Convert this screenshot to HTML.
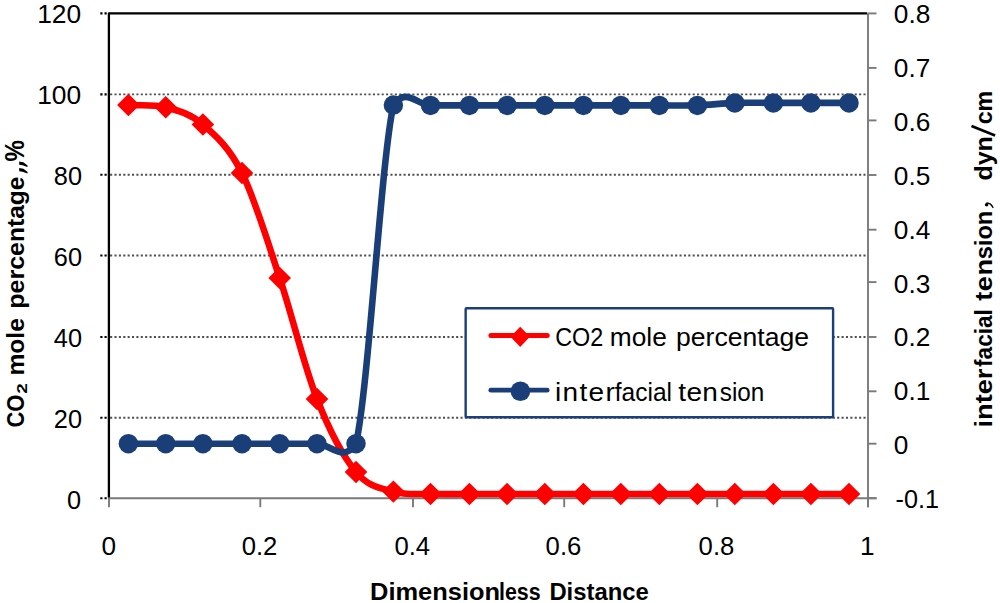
<!DOCTYPE html>
<html lang="en"><head><meta charset="utf-8"><title>CO2 mole percentage and interfacial tension</title>
<style>html,body{margin:0;padding:0;background:#fff;}body{width:1000px;height:603px;overflow:hidden;}svg{display:block;}text{font-family:"Liberation Sans", sans-serif;fill:#000;}</style></head><body>
<svg width="1000" height="603" viewBox="0 0 1000 603">
<rect x="0" y="0" width="1000" height="603" fill="#ffffff"/>
<g stroke="#505050" stroke-width="1.9" stroke-dasharray="2.1 2.28" fill="none">
<line x1="110.10" y1="417.70" x2="867.00" y2="417.70"/>
<line x1="110.10" y1="337.00" x2="867.00" y2="337.00"/>
<line x1="110.10" y1="255.50" x2="867.00" y2="255.50"/>
<line x1="110.10" y1="174.70" x2="867.00" y2="174.70"/>
<line x1="110.10" y1="94.40" x2="867.00" y2="94.40"/>
</g>
<g stroke="#000" stroke-width="2.1" stroke-dasharray="2.2 2.0" fill="none">
<line x1="100.30" y1="498.20" x2="107.90" y2="498.20"/>
<line x1="100.30" y1="417.70" x2="107.90" y2="417.70"/>
<line x1="100.30" y1="337.00" x2="107.90" y2="337.00"/>
<line x1="100.30" y1="255.50" x2="107.90" y2="255.50"/>
<line x1="100.30" y1="174.70" x2="107.90" y2="174.70"/>
<line x1="100.30" y1="94.40" x2="107.90" y2="94.40"/>
<line x1="100.30" y1="13.40" x2="107.90" y2="13.40"/>
</g>
<g stroke="#7A7A7A" stroke-width="1.9" fill="none">
<line x1="107.90" y1="498.20" x2="876.50" y2="498.20"/>
<line x1="109.00" y1="498.20" x2="109.00" y2="507.20"/>
<line x1="260.30" y1="498.20" x2="260.30" y2="507.20"/>
<line x1="413.00" y1="498.20" x2="413.00" y2="507.20"/>
<line x1="564.20" y1="498.20" x2="564.20" y2="507.20"/>
<line x1="717.20" y1="498.20" x2="717.20" y2="507.20"/>
<line x1="868.00" y1="498.20" x2="868.00" y2="507.20"/>
<line x1="868.00" y1="13.40" x2="868.00" y2="507.20"/>
<line x1="868.00" y1="498.20" x2="876.50" y2="498.20"/>
<line x1="868.00" y1="443.70" x2="876.50" y2="443.70"/>
<line x1="868.00" y1="391.30" x2="876.50" y2="391.30"/>
<line x1="868.00" y1="337.00" x2="876.50" y2="337.00"/>
<line x1="868.00" y1="282.10" x2="876.50" y2="282.10"/>
<line x1="868.00" y1="229.70" x2="876.50" y2="229.70"/>
<line x1="868.00" y1="175.00" x2="876.50" y2="175.00"/>
<line x1="868.00" y1="120.40" x2="876.50" y2="120.40"/>
<line x1="868.00" y1="67.90" x2="876.50" y2="67.90"/>
<line x1="868.00" y1="13.40" x2="876.50" y2="13.40"/>
</g>
<path d="M108.90 497.40 L108.90 13.40 L867.20 13.40" stroke="#000" stroke-width="2.3" fill="none" stroke-linejoin="round"/>
<path d="M128.40 105.00 C140.83 105.77 153.28 104.05 165.70 107.30 C178.12 110.55 190.18 113.55 202.90 124.50 C215.62 135.45 229.20 147.42 242.00 173.00 C254.80 198.58 267.20 240.33 279.70 278.00 C292.20 315.67 304.28 366.67 317.00 399.00 C329.72 431.33 343.27 456.57 356.00 472.00 C368.73 487.43 380.98 487.93 393.40 491.60 C405.82 495.27 417.83 493.60 430.50 494.00 C443.17 494.40 456.63 494.00 469.40 494.00 C482.17 494.00 494.53 494.00 507.10 494.00 C519.67 494.00 532.08 494.00 544.80 494.00 C557.52 494.00 570.73 494.00 583.40 494.00 C596.07 494.00 608.15 494.00 620.80 494.00 C633.45 494.00 646.53 494.00 659.30 494.00 C672.07 494.00 684.82 494.00 697.40 494.00 C709.98 494.00 722.13 494.00 734.80 494.00 C747.47 494.00 760.72 494.00 773.40 494.00 C786.08 494.00 798.30 494.00 810.90 494.00 C823.50 494.00 836.30 494.00 849.00 494.00" stroke="#FE0000" stroke-width="6.6" fill="none" stroke-linecap="round" stroke-linejoin="round"/>
<path d="M128.40 93.80 L139.70 105.00 L128.40 116.20 L117.10 105.00 Z" fill="#FE0000"/>
<path d="M165.70 96.10 L177.00 107.30 L165.70 118.50 L154.40 107.30 Z" fill="#FE0000"/>
<path d="M202.90 113.30 L214.20 124.50 L202.90 135.70 L191.60 124.50 Z" fill="#FE0000"/>
<path d="M242.00 161.80 L253.30 173.00 L242.00 184.20 L230.70 173.00 Z" fill="#FE0000"/>
<path d="M279.70 266.80 L291.00 278.00 L279.70 289.20 L268.40 278.00 Z" fill="#FE0000"/>
<path d="M317.00 387.80 L328.30 399.00 L317.00 410.20 L305.70 399.00 Z" fill="#FE0000"/>
<path d="M356.00 460.80 L367.30 472.00 L356.00 483.20 L344.70 472.00 Z" fill="#FE0000"/>
<path d="M393.40 480.40 L404.70 491.60 L393.40 502.80 L382.10 491.60 Z" fill="#FE0000"/>
<path d="M430.50 482.80 L441.80 494.00 L430.50 505.20 L419.20 494.00 Z" fill="#FE0000"/>
<path d="M469.40 482.80 L480.70 494.00 L469.40 505.20 L458.10 494.00 Z" fill="#FE0000"/>
<path d="M507.10 482.80 L518.40 494.00 L507.10 505.20 L495.80 494.00 Z" fill="#FE0000"/>
<path d="M544.80 482.80 L556.10 494.00 L544.80 505.20 L533.50 494.00 Z" fill="#FE0000"/>
<path d="M583.40 482.80 L594.70 494.00 L583.40 505.20 L572.10 494.00 Z" fill="#FE0000"/>
<path d="M620.80 482.80 L632.10 494.00 L620.80 505.20 L609.50 494.00 Z" fill="#FE0000"/>
<path d="M659.30 482.80 L670.60 494.00 L659.30 505.20 L648.00 494.00 Z" fill="#FE0000"/>
<path d="M697.40 482.80 L708.70 494.00 L697.40 505.20 L686.10 494.00 Z" fill="#FE0000"/>
<path d="M734.80 482.80 L746.10 494.00 L734.80 505.20 L723.50 494.00 Z" fill="#FE0000"/>
<path d="M773.40 482.80 L784.70 494.00 L773.40 505.20 L762.10 494.00 Z" fill="#FE0000"/>
<path d="M810.90 482.80 L822.20 494.00 L810.90 505.20 L799.60 494.00 Z" fill="#FE0000"/>
<path d="M849.00 482.80 L860.30 494.00 L849.00 505.20 L837.70 494.00 Z" fill="#FE0000"/>
<path d="M128.40 443.70 C140.83 443.70 153.28 443.70 165.70 443.70 C178.12 443.70 190.18 443.70 202.90 443.70 C215.62 443.70 229.20 443.70 242.00 443.70 C254.80 443.70 267.20 443.70 279.70 443.70 C292.20 443.70 304.28 443.70 317.00 443.70 C329.72 443.70 343.27 463.20 356.00 443.70 C368.73 387.27 380.98 161.48 393.40 105.10 C405.82 86.55 417.83 105.35 430.50 105.40 C443.17 105.45 456.63 105.40 469.40 105.40 C482.17 105.40 494.53 105.40 507.10 105.40 C519.67 105.40 532.08 105.40 544.80 105.40 C557.52 105.40 570.73 105.40 583.40 105.40 C596.07 105.40 608.15 105.40 620.80 105.40 C633.45 105.40 646.53 105.40 659.30 105.40 C672.07 105.40 684.82 105.82 697.40 105.40 C709.98 104.98 722.13 103.32 734.80 102.90 C747.47 102.48 760.72 102.90 773.40 102.90 C786.08 102.90 798.30 102.90 810.90 102.90 C823.50 102.90 836.30 102.90 849.00 102.90" stroke="#1A3F78" stroke-width="6.6" fill="none" stroke-linecap="round" stroke-linejoin="round"/>
<circle cx="128.40" cy="443.70" r="9.75" fill="#1A3F78"/>
<circle cx="165.70" cy="443.70" r="9.75" fill="#1A3F78"/>
<circle cx="202.90" cy="443.70" r="9.75" fill="#1A3F78"/>
<circle cx="242.00" cy="443.70" r="9.75" fill="#1A3F78"/>
<circle cx="279.70" cy="443.70" r="9.75" fill="#1A3F78"/>
<circle cx="317.00" cy="443.70" r="9.75" fill="#1A3F78"/>
<circle cx="356.00" cy="443.70" r="9.75" fill="#1A3F78"/>
<circle cx="393.40" cy="105.10" r="9.75" fill="#1A3F78"/>
<circle cx="430.50" cy="105.40" r="9.75" fill="#1A3F78"/>
<circle cx="469.40" cy="105.40" r="9.75" fill="#1A3F78"/>
<circle cx="507.10" cy="105.40" r="9.75" fill="#1A3F78"/>
<circle cx="544.80" cy="105.40" r="9.75" fill="#1A3F78"/>
<circle cx="583.40" cy="105.40" r="9.75" fill="#1A3F78"/>
<circle cx="620.80" cy="105.40" r="9.75" fill="#1A3F78"/>
<circle cx="659.30" cy="105.40" r="9.75" fill="#1A3F78"/>
<circle cx="697.40" cy="105.40" r="9.75" fill="#1A3F78"/>
<circle cx="734.80" cy="102.90" r="9.75" fill="#1A3F78"/>
<circle cx="773.40" cy="102.90" r="9.75" fill="#1A3F78"/>
<circle cx="810.90" cy="102.90" r="9.75" fill="#1A3F78"/>
<circle cx="849.00" cy="102.90" r="9.75" fill="#1A3F78"/>
<rect x="465.65" y="308.2" width="367.45" height="109.1" rx="0.8" fill="#fff" stroke="#1B3F79" stroke-width="2.4" stroke-linejoin="round"/>
<line x1="490.9" y1="335.5" x2="547.2" y2="335.5" stroke="#FE0000" stroke-width="5.0" stroke-linecap="round"/>
<path d="M520.20 326.70 L529.90 336.80 L520.20 346.90 L510.50 336.80 Z" fill="#FE0000"/>
<line x1="490.8" y1="390.2" x2="547.2" y2="390.2" stroke="#1A3F78" stroke-width="4.7" stroke-linecap="round"/>
<circle cx="520.40" cy="391.30" r="9.80" fill="#1A3F78"/>
<text x="555.20" y="346.40" font-size="25.50" font-weight="normal" text-anchor="start" textLength="48.00" lengthAdjust="spacingAndGlyphs">CO2</text>
<text x="609.80" y="346.40" font-size="25.50" font-weight="normal" text-anchor="start" textLength="57.00" lengthAdjust="spacingAndGlyphs">mole</text>
<text x="676.00" y="346.40" font-size="25.50" font-weight="normal" text-anchor="start" textLength="133.00" lengthAdjust="spacingAndGlyphs">percentage</text>
<text transform="translate(556.90 400.70) scale(1.1000 1)" x="-1.71 5.16 20.54 28.82 44.20" y="0" font-size="25.50" font-weight="normal" style="font-kerning:none">inter</text>
<text x="614.75" y="400.70" font-size="25.50" font-weight="normal" text-anchor="start" textLength="57.29" lengthAdjust="spacingAndGlyphs" style="font-kerning:none">facial</text>
<text transform="translate(678.80 400.70) scale(1.1000 1)" x="-0.39 6.90 21.29" y="0" font-size="25.50" font-weight="normal" style="font-kerning:none">ten</text>
<text x="719.82" y="400.70" font-size="25.50" font-weight="normal" text-anchor="start" textLength="44.55" lengthAdjust="spacingAndGlyphs" style="font-kerning:none">sion</text>
<text x="67.10" y="508.70" font-size="25.40" font-weight="normal" text-anchor="start" textLength="14.10" lengthAdjust="spacingAndGlyphs">0</text>
<text x="53.80" y="427.70" font-size="25.40" font-weight="normal" text-anchor="start" textLength="28.20" lengthAdjust="spacingAndGlyphs">20</text>
<text x="53.80" y="346.70" font-size="25.40" font-weight="normal" text-anchor="start" textLength="28.20" lengthAdjust="spacingAndGlyphs">40</text>
<text x="53.80" y="265.70" font-size="25.40" font-weight="normal" text-anchor="start" textLength="28.20" lengthAdjust="spacingAndGlyphs">60</text>
<text x="53.80" y="184.70" font-size="25.40" font-weight="normal" text-anchor="start" textLength="28.20" lengthAdjust="spacingAndGlyphs">80</text>
<text x="37.20" y="103.70" font-size="25.40" font-weight="normal" text-anchor="start" textLength="44.00" lengthAdjust="spacingAndGlyphs">100</text>
<text x="37.20" y="22.70" font-size="25.40" font-weight="normal" text-anchor="start" textLength="44.00" lengthAdjust="spacingAndGlyphs">120</text>
<text x="895.50" y="508.16" font-size="25.40" font-weight="normal" text-anchor="start" textLength="43.50" lengthAdjust="spacingAndGlyphs">-0.1</text>
<text x="893.80" y="454.27" font-size="25.40" font-weight="normal" text-anchor="start" textLength="14.60" lengthAdjust="spacingAndGlyphs">0</text>
<text x="893.80" y="400.38" font-size="25.40" font-weight="normal" text-anchor="start" textLength="36.50" lengthAdjust="spacingAndGlyphs">0.1</text>
<text x="893.80" y="346.49" font-size="25.40" font-weight="normal" text-anchor="start" textLength="36.50" lengthAdjust="spacingAndGlyphs">0.2</text>
<text x="893.80" y="292.60" font-size="25.40" font-weight="normal" text-anchor="start" textLength="36.50" lengthAdjust="spacingAndGlyphs">0.3</text>
<text x="893.80" y="238.71" font-size="25.40" font-weight="normal" text-anchor="start" textLength="36.50" lengthAdjust="spacingAndGlyphs">0.4</text>
<text x="893.80" y="184.82" font-size="25.40" font-weight="normal" text-anchor="start" textLength="36.50" lengthAdjust="spacingAndGlyphs">0.5</text>
<text x="893.80" y="130.93" font-size="25.40" font-weight="normal" text-anchor="start" textLength="36.50" lengthAdjust="spacingAndGlyphs">0.6</text>
<text x="893.80" y="77.04" font-size="25.40" font-weight="normal" text-anchor="start" textLength="36.50" lengthAdjust="spacingAndGlyphs">0.7</text>
<text x="893.80" y="23.15" font-size="25.40" font-weight="normal" text-anchor="start" textLength="36.50" lengthAdjust="spacingAndGlyphs">0.8</text>
<text x="101.60" y="554.90" font-size="25.40" font-weight="normal" text-anchor="start" textLength="14.60" lengthAdjust="spacingAndGlyphs">0</text>
<text x="241.70" y="554.90" font-size="25.40" font-weight="normal" text-anchor="start" textLength="35.70" lengthAdjust="spacingAndGlyphs">0.2</text>
<text x="394.40" y="554.90" font-size="25.40" font-weight="normal" text-anchor="start" textLength="35.70" lengthAdjust="spacingAndGlyphs">0.4</text>
<text x="545.60" y="554.90" font-size="25.40" font-weight="normal" text-anchor="start" textLength="35.70" lengthAdjust="spacingAndGlyphs">0.6</text>
<text x="698.60" y="554.90" font-size="25.40" font-weight="normal" text-anchor="start" textLength="35.70" lengthAdjust="spacingAndGlyphs">0.8</text>
<text x="860.00" y="554.90" font-size="25.40" font-weight="normal" text-anchor="start" textLength="14.60" lengthAdjust="spacingAndGlyphs">1</text>
<text x="370.00" y="600.10" font-size="24.70" font-weight="bold" text-anchor="start" textLength="130.08" lengthAdjust="spacingAndGlyphs" style="font-kerning:none">Dimension</text>
<text x="499.01" y="600.10" font-size="24.70" font-weight="bold" text-anchor="start" textLength="41.57" lengthAdjust="spacingAndGlyphs" style="font-kerning:none">less</text>
<text x="549.40" y="600.10" font-size="24.70" font-weight="bold" text-anchor="start" textLength="99.41" lengthAdjust="spacingAndGlyphs" style="font-kerning:none">Distance</text>
<g transform="translate(23.6 0) rotate(-90)">
<text x="-427.60" y="0.00" font-size="24.70" font-weight="bold" text-anchor="start" textLength="33.00" lengthAdjust="spacingAndGlyphs">CO</text>
<text x="-393.80" y="3.60" font-size="15.50" font-weight="bold" text-anchor="start" textLength="10.60" lengthAdjust="spacingAndGlyphs">2</text>
<text x="-375.60" y="0.00" font-size="24.70" font-weight="bold" text-anchor="start" textLength="57.50" lengthAdjust="spacingAndGlyphs">mole</text>
<text x="-308.85" y="0.00" font-size="24.70" font-weight="bold" text-anchor="start" textLength="66.91" lengthAdjust="spacingAndGlyphs" style="font-kerning:none">perce</text>
<text x="-242.02" y="0.00" font-size="24.70" font-weight="bold" text-anchor="start" textLength="65.46" lengthAdjust="spacingAndGlyphs" style="font-kerning:none">ntage</text>
<text x="-161.40" y="0.00" font-size="24.70" font-weight="bold" text-anchor="start" textLength="21.40" lengthAdjust="spacingAndGlyphs" transform="scale(1 1.12)">%</text>
</g>
<path d="M19.2 161.60 L19.2 164.70 L22.5 165.20 L27.4 167.00 L27.6 165.60 L23.4 162.20 Z" fill="#000"/>
<path d="M19.2 168.10 L19.2 171.20 L22.5 171.70 L27.4 173.50 L27.6 172.10 L23.4 168.70 Z" fill="#000"/>
<g transform="translate(991.5 0) rotate(-90)">
<text transform="translate(-425.60 0.00) scale(1.1000 1)" x="-1.72 5.14 20.24 28.47 42.22" y="0" font-size="24.70" font-weight="bold" style="font-kerning:none">inter</text>
<text x="-366.99" y="0.00" font-size="24.70" font-weight="bold" text-anchor="start" textLength="57.89" lengthAdjust="spacingAndGlyphs" style="font-kerning:none">facial</text>
<text transform="translate(-300.50 0.00) scale(1.1000 1)" x="-0.30 8.50 22.81" y="0" font-size="24.70" font-weight="bold" style="font-kerning:none">ten</text>
<text x="-259.33" y="0.00" font-size="24.70" font-weight="bold" text-anchor="start" textLength="48.60" lengthAdjust="spacingAndGlyphs" style="font-kerning:none">sion</text>
<circle cx="-204.8" cy="-4.9" r="1.75" fill="#000"/>
<path d="M-203.0 -4.6 Q-203.2 -0.6 -207.5 1.5" stroke="#000" stroke-width="1.3" fill="none" stroke-linecap="round"/>
<text x="-180.63" y="0.00" font-size="24.70" font-weight="bold" text-anchor="start" textLength="44.48" lengthAdjust="spacingAndGlyphs" style="font-kerning:none">dyn</text>
<line x1="-135.6" y1="3.6" x2="-126.0" y2="-20.0" stroke="#000" stroke-width="2.7"/>
<text x="-124.31" y="0.00" font-size="24.70" font-weight="bold" text-anchor="start" textLength="33.55" lengthAdjust="spacingAndGlyphs" style="font-kerning:none">cm</text>
</g>
</svg></body></html>
